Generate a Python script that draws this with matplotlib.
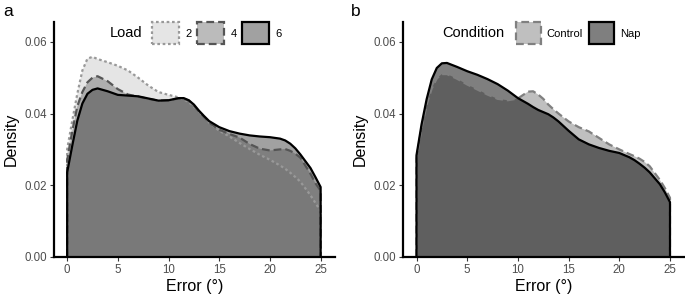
import numpy as np
import matplotlib
matplotlib.use('Agg')
import matplotlib.pyplot as plt
from matplotlib.patches import Patch

plt.rcParams['font.family'] = ['Liberation Sans', 'DejaVu Sans']

error_x = [0, 0.5, 1, 1.5, 2, 2.5, 3, 4, 5, 6, 7, 8, 9, 10, 11, 11.5, 12, 12.5,
           13, 13.5, 14, 15, 16, 17, 18, 19, 20, 21, 21.5, 22, 22.5, 23, 24,
           24.5, 25]

# panel a: memory load
load_labels = ['2', '4', '6']
load2 = [0.0300, 0.0380, 0.0455, 0.0520, 0.0553, 0.0558, 0.0552, 0.0543, 0.0533,
         0.0520, 0.0500, 0.0478, 0.0460, 0.0452, 0.0445, 0.0439, 0.0432, 0.0419,
         0.0405, 0.0390, 0.0375, 0.0352, 0.0336, 0.0318, 0.0301, 0.0285, 0.0271,
         0.0255, 0.0246, 0.0235, 0.0223, 0.0210, 0.0172, 0.0150, 0.0128]
load4 = [0.0270, 0.0350, 0.0420, 0.0460, 0.0487, 0.0500, 0.0504, 0.0490, 0.0468,
         0.0453, 0.0447, 0.0441, 0.0436, 0.0437, 0.0442, 0.0441, 0.0436, 0.0422,
         0.0405, 0.0390, 0.0375, 0.0355, 0.0343, 0.0333, 0.0315, 0.0302, 0.0297,
         0.0300, 0.0301, 0.0296, 0.0288, 0.0277, 0.0232, 0.0205, 0.0185]
load6 = [0.0236, 0.0310, 0.0380, 0.0428, 0.0455, 0.0466, 0.0470, 0.0462, 0.0452,
         0.0450, 0.0448, 0.0442, 0.0436, 0.0437, 0.0443, 0.0443, 0.0437, 0.0425,
         0.0408, 0.0393, 0.0379, 0.0362, 0.0351, 0.0344, 0.0339, 0.0336, 0.0334,
         0.0330, 0.0325, 0.0316, 0.0303, 0.0286, 0.0248, 0.0222, 0.0195]

# panel b: condition
cond_labels = ['Control', 'Nap']
control = [0.0275, 0.0360, 0.0425, 0.0470, 0.0498, 0.0510, 0.0510, 0.0497, 0.0481,
           0.0467, 0.0453, 0.0441, 0.0437, 0.0442, 0.0461, 0.0462, 0.0453, 0.0441,
           0.0425, 0.0412, 0.0400, 0.0378, 0.0362, 0.0350, 0.0332, 0.0314, 0.0300,
           0.0287, 0.0281, 0.0274, 0.0265, 0.0253, 0.0215, 0.0192, 0.0165]
nap = [0.0284, 0.0370, 0.0440, 0.0495, 0.0527, 0.0540, 0.0541, 0.0530, 0.0518,
       0.0508, 0.0496, 0.0482, 0.0464, 0.0443, 0.0427, 0.0418, 0.0410, 0.0404,
       0.0398, 0.0389, 0.0378, 0.0352, 0.0328, 0.0314, 0.0304, 0.0296, 0.0290,
       0.0278, 0.0270, 0.0260, 0.0249, 0.0236, 0.0203, 0.0180, 0.0153]

y_ticks = [0.00, 0.02, 0.04, 0.06]
x_ticks = [0, 5, 10, 15, 20, 25]


def draw_density(ax, x, y, fill, edge, ls):
    """Filled density with its outline closed down to zero."""
    xs = [x[0]] + list(x) + [x[-1]]
    ys = [0] + list(y) + [0]
    ax.fill(xs, ys, facecolor=fill, edgecolor='none', zorder=2)
    ax.plot(xs, ys, color=edge, ls=ls, lw=1.6, zorder=3,
            solid_joinstyle='round', dash_capstyle='butt')


def style_axes(ax):
    ax.set_xlim(-1.3, 26.4)
    ax.set_ylim(0, 0.0655)
    ax.set_xticks(x_ticks)
    ax.set_yticks(y_ticks)
    ax.set_yticklabels(['%.2f' % t for t in y_ticks])
    for side in ['top', 'right']:
        ax.spines[side].set_visible(False)
    for side in ['left', 'bottom']:
        ax.spines[side].set_linewidth(1.6)
        ax.spines[side].set_zorder(5)
    ax.tick_params(length=3, width=0.8, colors='#333333', labelsize=8.3,
                   labelcolor='#4d4d4d', pad=2)
    ax.set_xlabel('Error (°)', fontsize=11.5, labelpad=2)
    ax.set_ylabel('Density', fontsize=11.5, labelpad=4)


fig = plt.figure(figsize=(6.85, 2.97), dpi=100)
ax_a = fig.add_axes([0.0788, 0.1347, 0.410, 0.791])
ax_b = fig.add_axes([0.5888, 0.1347, 0.410, 0.791])

# panel a
load_styles = [((0.8, 0.8, 0.8, 0.5), '#999999', (0, (1.2, 1.2))),
               ((0.47, 0.47, 0.47, 0.5), '#555555', (0, (3.5, 1.8))),
               ((0.27, 0.27, 0.27, 0.5), 'black', '-')]
for ys, (fc, ec, ls) in zip([load2, load4, load6], load_styles):
    draw_density(ax_a, error_x, ys, fc, ec, ls)
style_axes(ax_a)

handles_a = [Patch(facecolor=fc, edgecolor=ec, linestyle=ls, linewidth=1.6, label=lab)
             for lab, (fc, ec, ls) in zip(load_labels, load_styles)]
ax_a.text(0.20, 0.952, 'Load', transform=ax_a.transAxes, fontsize=10.5,
          ha='left', va='center', zorder=6)
ax_a.legend(handles=handles_a, ncol=3, loc='center left', bbox_to_anchor=(0.35, 0.952),
            frameon=False, fontsize=8, handlelength=2.4, handleheight=2.7,
            handletextpad=0.6, columnspacing=0.5, borderpad=0, borderaxespad=0)

# panel b
cond_styles = [((0.5, 0.5, 0.5, 0.5), '#808080', (0, (3.5, 1.8))),
               ((0.0, 0.0, 0.0, 0.5), 'black', '-')]
for ys, (fc, ec, ls) in zip([control, nap], cond_styles):
    draw_density(ax_b, error_x, ys, fc, ec, ls)
style_axes(ax_b)

handles_b = [Patch(facecolor=fc, edgecolor=ec, linestyle=ls, linewidth=1.6, label=lab)
             for lab, (fc, ec, ls) in zip(cond_labels, cond_styles)]
ax_b.text(0.137, 0.952, 'Condition', transform=ax_b.transAxes, fontsize=10.5,
          ha='left', va='center', zorder=6)
ax_b.legend(handles=handles_b, ncol=2, loc='center left', bbox_to_anchor=(0.40, 0.952),
            frameon=False, fontsize=8, handlelength=2.3, handleheight=2.7,
            handletextpad=0.5, columnspacing=0.5, borderpad=0, borderaxespad=0)

fig.text(0.005, 0.985, 'a', fontsize=12.5, ha='left', va='top')
fig.text(0.512, 0.985, 'b', fontsize=12.5, ha='left', va='top')

fig.savefig('out.png', dpi=100)
